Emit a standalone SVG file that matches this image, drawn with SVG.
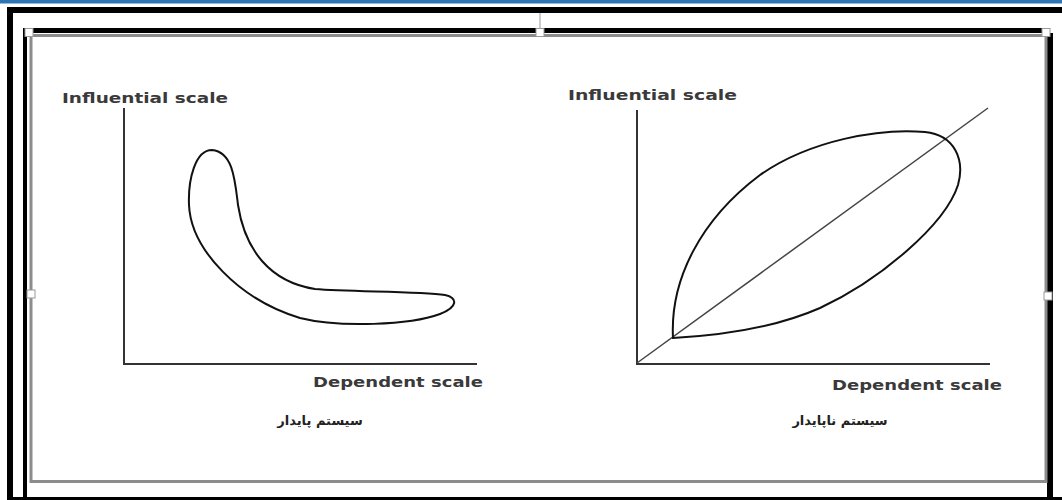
<svg xmlns="http://www.w3.org/2000/svg" width="1062" height="500" viewBox="0 0 1062 500">
  <defs>
    <style>
      .axis { stroke: #333; stroke-width: 2; fill: none; }
      .curve { stroke: #111; stroke-width: 2; fill: none; }
      .diag { stroke: #444; stroke-width: 1.5; fill: none; }
      .lbl { font-family: "DejaVu Sans", Verdana, sans-serif; font-size: 14px; font-weight: bold; fill: #3a3a3a; }
      .fa { font-family: "DejaVu Sans", "Noto Sans", sans-serif; font-size: 13px; font-weight: bold; fill: #222; }
      .handle { fill: #fff; stroke: #999; stroke-width: 1; }
      .blk { fill: #000; }
    </style>
  </defs>
  <rect width="1062" height="500" fill="#fff"/>
  <g id="frame">
    <rect x="0" y="0" width="1062" height="3.5" fill="#2e75b6"/>
    <rect class="blk" x="7" y="7" width="1055" height="6"/>
    <rect class="blk" x="7" y="7" width="6" height="493"/>
    <rect class="blk" x="7" y="497" width="1055" height="3"/>
    <rect class="blk" x="23" y="28" width="1022" height="5"/>
    <rect class="blk" x="23" y="28" width="4" height="470"/>
    <rect class="blk" x="1047" y="33" width="6" height="465"/>
    <rect x="31" y="35.5" width="1015" height="446" fill="none" stroke="#8c8c8c" stroke-width="3"/>
    <line x1="540" y1="13" x2="540" y2="29" stroke="#999" stroke-width="1"/>
    <rect class="handle" x="25" y="28.5" width="8" height="8"/>
    <rect class="handle" x="536" y="28.5" width="8" height="8"/>
    <rect class="handle" x="1042" y="28.5" width="8" height="8"/>
    <rect class="handle" x="27" y="290" width="8" height="8"/>
    <rect class="handle" x="1044" y="292" width="8" height="8"/>
  </g>
  <g id="stable-chart">
    <g id="stable-axes">
      <polyline class="axis" points="124,108 124,364 477,364"/>
    </g>
    <g id="stable-curve">
      <path class="curve" d="M 212 150 C 195 150, 188 180, 189 205 C 191 250, 240 300, 300 318 C 340 328, 410 325, 440 314 C 458 307, 458 298, 445 295 C 420 291, 350 292, 315 289 C 270 282, 245 250, 238 205 C 235 180, 233 152, 212 150 Z"/>
    </g>
    <text class="lbl" x="62" y="103" textLength="166" lengthAdjust="spacingAndGlyphs">Influential scale</text>
    <text class="lbl" x="313" y="387" textLength="170" lengthAdjust="spacingAndGlyphs">Dependent scale</text>
    <text class="fa" x="320" y="425" text-anchor="middle" direction="rtl">سیستم پایدار</text>
  </g>
  <g id="unstable-chart">
    <g id="unstable-axes">
      <polyline class="axis" points="637,110 637,364 990,364"/>
      <line class="diag" x1="637" y1="363" x2="988" y2="108"/>
    </g>
    <g id="unstable-curve">
      <path class="curve" d="M 673 338 C 670 280, 700 220, 760 175 C 810 140, 880 128, 925 132 C 955 135, 965 160, 958 185 C 945 225, 880 280, 820 308 C 770 330, 710 336, 673 338 Z"/>
    </g>
    <text class="lbl" x="568" y="100" textLength="169" lengthAdjust="spacingAndGlyphs">Influential scale</text>
    <text class="lbl" x="832" y="390" textLength="170" lengthAdjust="spacingAndGlyphs">Dependent scale</text>
    <text class="fa" x="840" y="425" text-anchor="middle" direction="rtl">سیستم ناپایدار</text>
  </g>
</svg>
